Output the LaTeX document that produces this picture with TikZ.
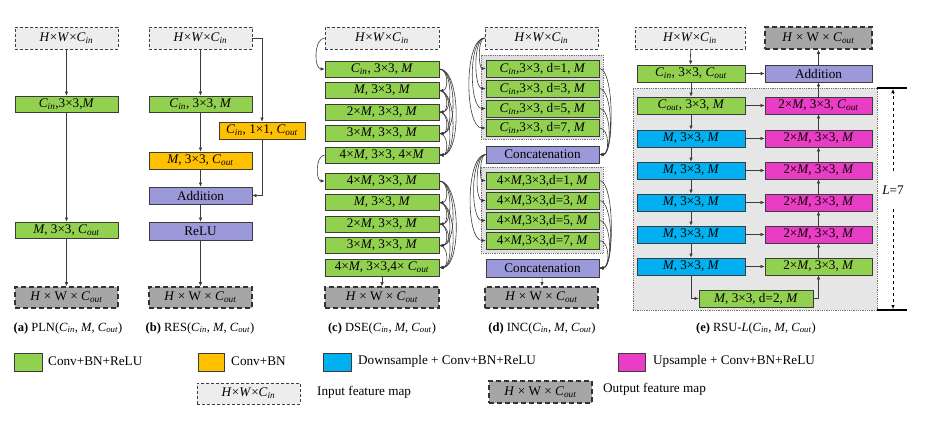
\documentclass[tikz,border=0pt]{standalone}
\usepackage{fontspec}
\setmainfont{Liberation Serif}
\usetikzlibrary{arrows.meta}
\definecolor{cgreen}{HTML}{92D050}
\definecolor{corange}{HTML}{FFC000}
\definecolor{cblue}{HTML}{00B0F0}
\definecolor{cmag}{HTML}{E83DC4}
\definecolor{cpurp}{HTML}{9B99D9}
\definecolor{cinf}{HTML}{EDEDED}
\definecolor{coutf}{HTML}{A6A6A6}
\definecolor{creg}{HTML}{E7E6E6}
\definecolor{cline}{HTML}{3C3C3C}
\newcommand\vCin{\textit{C}\textsubscript{\textit{in}}}
\newcommand\vCout{\textit{C}\textsubscript{\textit{out}}}
\newcommand\vM{\textit{M}}
\newcommand\mkbox[7]{\node[#1, minimum width={(#5)-(#3)}, minimum height={(#6)-(#4)}] (#2) at ({((#3)+(#5))/2},{((#4)+(#6))/2}) {#7};}
\begin{document}
\begin{tikzpicture}[x=1pt,y=-1pt,
  box/.style={draw=cline, line width=0.7pt, inner sep=0pt, font=\fontsize{13.2}{14}\selectfont},
  gbox/.style={box, fill=cgreen},
  obox/.style={box, fill=corange},
  bbox/.style={box, fill=cblue},
  mbox/.style={box, fill=cmag},
  pbox/.style={box, fill=cpurp},
  inb/.style={box, fill=cinf, draw=black!75, line width=0.6pt, densely dashed},
  outb/.style={box, fill=coutf, draw=black!80, line width=1.6pt, dash pattern=on 5pt off 3pt},
  grp/.style={draw=black!55, line width=0.8pt, densely dotted, fill=black!12, inner sep=0pt},
  reg/.style={draw=black!55, line width=0.8pt, densely dotted, fill=creg, inner sep=0pt},
  arr/.style={draw=cline, line width=0.6pt, -{Latex[length=4pt,width=3.5pt]}},
  captxt/.style={font=\fontsize{12.5}{14}\selectfont, inner sep=0pt},
  legtxt/.style={font=\fontsize{13.2}{15}\selectfont, inner sep=0pt, anchor=west}
]
\fill[white] (0,0) rectangle (931,431);
\useasboundingbox (0,0) rectangle (931,431);

% ---------- (a) PLN
\mkbox{inb}{a0}{15}{27}{118}{49}{\textit{H}×\textit{W}×\vCin}
\mkbox{gbox}{a1}{15}{96}{118}{112}{\vCin,3×3,\vM}
\mkbox{gbox}{a2}{15}{222}{118}{238}{\vM, 3×3, \vCout}
\mkbox{outb}{a3}{15}{287}{118}{308}{\textit{H} × W × \vCout}
\draw[arr] (a0) -- (a1);
\draw[arr] (a1) -- (a2);
\draw[arr] (a2) -- (a3);
\node[captxt] (acap) at (68,328) {\textbf{(a)} PLN(\vCin, \vM, \vCout)};

% ---------- (b) RES
\mkbox{inb}{b0}{149}{27}{252}{49}{\textit{H}×\textit{W}×\vCin}
\mkbox{gbox}{b1}{149}{96}{252}{112}{\vCin, 3×3, \vM}
\mkbox{obox}{bs}{219}{122}{305}{139}{\vCin, 1×1, \vCout}
\mkbox{obox}{b2}{149}{152}{252}{169}{\vM, 3×3, \vCout}
\mkbox{pbox}{b3}{149}{187}{252}{204}{Addition}
\mkbox{pbox}{b4}{149}{222}{252}{240}{ReLU}
\mkbox{outb}{b5}{149}{287}{252}{308}{\textit{H} × W × \vCout}
\draw[arr] (b0) -- (b1);
\draw[arr] (b1) -- (b2);
\draw[arr] (b2) -- (b3);
\draw[arr] (b3) -- (b4);
\draw[arr] (b4) -- (b5);
\draw[arr] (b0.east) -| (bs.north);
\draw[arr] (bs.south) |- (b3.east);
\node[captxt] (bcap) at (200,328) {\textbf{(b)} RES(\vCin, \vM, \vCout)};

% ---------- (c) DSE
\mkbox{inb}{c0}{325}{27}{439}{49}{\textit{H}×\textit{W}×\vCin}
\mkbox{gbox}{c1}{325}{61}{439}{77}{\vCin, 3×3, \vM}
\mkbox{gbox}{c2}{325}{82.5}{439}{98.5}{\vM, 3×3, \vM}
\mkbox{gbox}{c3}{325}{104}{439}{120}{2×\vM, 3×3, \vM}
\mkbox{gbox}{c4}{325}{125.5}{439}{141.5}{3×\vM, 3×3, \vM}
\mkbox{gbox}{c5}{325}{147}{439}{163}{4×\vM, 3×3, 4×\vM}
\mkbox{gbox}{c6}{325}{173}{439}{189}{4×\vM, 3×3, \vM}
\mkbox{gbox}{c7}{325}{194.5}{439}{210.5}{\vM, 3×3, \vM}
\mkbox{gbox}{c8}{325}{216}{439}{232}{2×\vM, 3×3, \vM}
\mkbox{gbox}{c9}{325}{237.5}{439}{253.5}{3×\vM, 3×3, \vM}
\mkbox{gbox}{c10}{325}{259}{439}{276}{4×\vM, 3×3,4× \vCout}
\mkbox{outb}{c11}{325}{287}{439}{308}{\textit{H} × W × \vCout}
\draw[arr] (c0.west) to[out=180,in=180,looseness=0.9] (c1.west);
\draw[arr] (c5.west) to[out=180,in=180,looseness=0.9] (c6.west);
\foreach \o in {0,5}{
  \foreach \i/\j in {1/2,1/3,1/4,1/5,2/3,2/4,2/5,3/4,3/5,4/5}{
    \pgfmathtruncatemacro\ia{\i+\o}
    \pgfmathtruncatemacro\ja{\j+\o}
    \pgfmathsetmacro\lo{0.5+0.6/(\j-\i)}
    \draw[arr] (c\ia.east) to[out=0,in=0,looseness=\lo] (c\ja.east);
  }}
\draw[arr] (c10) -- (c11);
\node[captxt] (ccap) at (382,328) {\textbf{(c)} DSE(\vCin, \vM, \vCout)};

% ---------- (d) INC
\mkbox{inb}{d0}{485}{27}{598}{49}{\textit{H}×\textit{W}×\vCin}
\mkbox{grp}{g1}{481}{55}{603}{139}{}
\mkbox{gbox}{d1}{486}{60}{599}{77}{\vCin,3×3, d=1, \vM}
\mkbox{gbox}{d2}{486}{80}{599}{97}{\vCin,3×3, d=3, \vM}
\mkbox{gbox}{d3}{486}{100}{599}{117}{\vCin,3×3, d=5, \vM}
\mkbox{gbox}{d4}{486}{119.5}{599}{136.5}{\vCin,3×3, d=7, \vM}
\mkbox{pbox}{dc1}{486}{146}{599}{163}{Concatenation}
\mkbox{grp}{g2}{481}{167}{603}{253}{}
\mkbox{gbox}{d5}{486}{172}{599}{189}{4×\vM,3×3,d=1, \vM}
\mkbox{gbox}{d6}{486}{192}{599}{209}{4×\vM,3×3,d=3, \vM}
\mkbox{gbox}{d7}{486}{212}{599}{229}{4×\vM,3×3,d=5, \vM}
\mkbox{gbox}{d8}{486}{232}{599}{249}{4×\vM,3×3,d=7, \vM}
\mkbox{pbox}{dc2}{486}{259}{599}{277}{Concatenation}
\mkbox{outb}{d9}{485}{287}{598}{308}{\textit{H} × W × \vCout}
\foreach \k in {1,2,3,4}{
  \draw[arr] (d0.west) to[out=180,in=180,looseness=0.6] (d\k.west);}
\foreach \k/\lo in {1/0.45,2/0.55,3/0.7,4/1.0}{
  \draw[arr] (d\k.east) to[out=0,in=0,looseness=\lo] (dc1.east);}
\foreach \k in {5,6,7,8}{
  \draw[arr] (dc1.west) to[out=180,in=180,looseness=0.6] (d\k.west);}
\foreach \k/\lo in {5/0.45,6/0.55,7/0.7,8/1.0}{
  \draw[arr] (d\k.east) to[out=0,in=0,looseness=\lo] (dc2.east);}
\draw[arr] (dc2) -- (d9);
\node[captxt] (dcap) at (542,328) {\textbf{(d)} INC(\vCin, \vM, \vCout)};

% ---------- (e) RSU
\mkbox{reg}{rg}{633}{88}{877}{310}{}
\mkbox{inb}{e0}{635}{27}{745}{49}{\textit{H}×\textit{W}×\vCin}
\mkbox{outb}{eo}{765}{27}{872}{49}{\textit{H} × W × \vCout}
\mkbox{gbox}{et}{637}{65}{745}{82}{\vCin, 3×3, \vCout}
\mkbox{pbox}{ea}{765}{65}{872}{82}{Addition}
\mkbox{gbox}{L1}{637}{97}{745}{114}{\vCout, 3×3, \vM}
\mkbox{bbox}{L2}{637}{130}{745}{147}{\vM, 3×3, \vM}
\mkbox{bbox}{L3}{637}{162}{745}{179}{\vM, 3×3, \vM}
\mkbox{bbox}{L4}{637}{194}{745}{211}{\vM, 3×3, \vM}
\mkbox{bbox}{L5}{637}{226}{745}{243}{\vM, 3×3, \vM}
\mkbox{bbox}{L6}{637}{258}{745}{275}{\vM, 3×3, \vM}
\mkbox{mbox}{R1}{765}{97}{872}{114}{2×\vM, 3×3, \vCout}
\mkbox{mbox}{R2}{765}{130}{872}{147}{2×\vM, 3×3, \vM}
\mkbox{mbox}{R3}{765}{162}{872}{179}{2×\vM, 3×3, \vM}
\mkbox{mbox}{R4}{765}{194}{872}{211}{2×\vM, 3×3, \vM}
\mkbox{mbox}{R5}{765}{226}{872}{243}{2×\vM, 3×3, \vM}
\mkbox{gbox}{R6}{765}{258}{872}{275}{2×\vM, 3×3, \vM}
\mkbox{gbox}{eb}{699}{290}{813}{307}{\vM, 3×3, d=2, \vM}
\draw[arr] (e0) -- (et);
\draw[arr] (et) -- (L1);
\draw[arr] (et) -- (ea);
\draw[arr] (ea) -- (eo);
\draw[arr] (R1) -- (ea);
\foreach \k [count=\n from 2] in {1,...,5}{
  \draw[arr] (L\k) -- (L\n);
  \draw[arr] (R\n) -- (R\k);}
\foreach \k in {1,...,6}{
  \draw[arr] (L\k) -- (R\k);}
\draw[arr] (L6.south) |- (eb.west);
\draw[arr] (eb.east) -| (R6.south);
\draw[line width=1.2pt] (877,88) -- (907,88);
\draw[line width=1.2pt] (877,310) -- (907,310);
\coordinate (Lt) at (893,89);
\coordinate (Lb) at (893,309);
\node[font=\fontsize{13.2}{15}\selectfont, minimum height=38pt, inner sep=0pt] (L7) at (893,190) {\textit{L}=7};
\draw[arr, dashed, draw=black] (L7.north) -- (Lt);
\draw[arr, dashed, draw=black] (L7.south) -- (Lb);
\node[captxt] (ecap) at (756,328) {\textbf{(e)} RSU-\textit{L}(\vCin, \vM , \vCout)};

% ---------- legend
\mkbox{gbox}{lg1}{14}{353}{42}{371}{}
\node[legtxt] (lt1) at (48,361) {Conv+BN+ReLU};
\mkbox{obox}{lg2}{198}{353}{224}{371}{}
\node[legtxt] (lt2) at (231,361) {Conv+BN};
\mkbox{bbox}{lg3}{323}{353}{351}{371}{}
\node[legtxt] (lt3) at (358,361) {Downsample + Conv+BN+ReLU};
\mkbox{mbox}{lg4}{618}{353}{645}{371}{}
\node[legtxt] (lt4) at (653,361) {Upsample + Conv+BN+ReLU};
\mkbox{inb}{lg5}{197}{383}{300}{404}{\textit{H}×\textit{W}×\vCin}
\node[legtxt] (lt5) at (317,392) {Input feature map};
\mkbox{outb}{lg6}{489}{381}{592}{403}{\textit{H} × W × \vCout}
\node[legtxt] (lt6) at (603,389) {Output feature map};
\end{tikzpicture}
\end{document}
